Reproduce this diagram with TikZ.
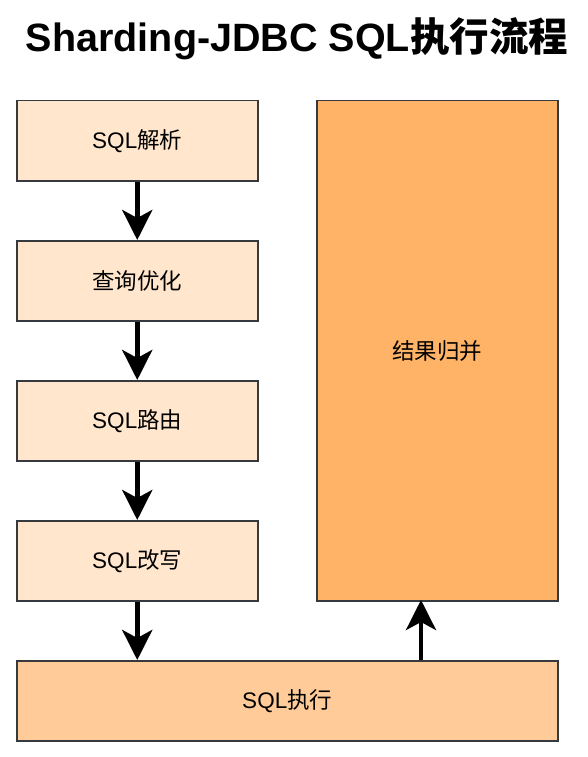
\documentclass[tikz,border=0pt]{standalone}
\usepackage{fontspec}
\setmainfont{Liberation Sans}
\newfontfamily\cjk{Noto Sans CJK SC}
\usetikzlibrary{arrows.meta}
\definecolor{lightfill}{HTML}{FFE6CC}
\definecolor{midfill}{HTML}{FFCC99}
\definecolor{darkfill}{HTML}{FFB366}
\definecolor{edge}{HTML}{36393D}
\tikzset{
  box/.style={draw=edge, line width=1.5pt, anchor=north west, inner sep=0pt, font=\fontsize{22.5}{26}\selectfont},
  flow/.style={line width=4.5pt, -{Stealth[length=30pt,width=30pt,inset=8pt]}, shorten >=0pt}
}
\begin{document}
\begin{tikzpicture}[x=1pt,y=-1pt]
\useasboundingbox (0,0) rectangle (587,757);
\node[font=\bfseries\fontsize{39.5}{44}\selectfont] (title) at (297,39) {Sharding-JDBC SQL{\cjk\bfseries 执行流程}};
\node[box, fill=lightfill, minimum width=241pt, minimum height=80pt] (parse) at (16,100) {SQL{\cjk 解析}};
\node[box, fill=lightfill, minimum width=241pt, minimum height=80pt] (opt) at (16,240) {{\cjk 查询优化}};
\node[box, fill=lightfill, minimum width=241pt, minimum height=80pt] (route) at (16,380) {SQL{\cjk 路由}};
\node[box, fill=lightfill, minimum width=241pt, minimum height=80pt] (rewrite) at (16,520) {SQL{\cjk 改写}};
\node[box, fill=darkfill, minimum width=241pt, minimum height=500pt] (merge) at (316,100) {{\cjk 结果归并}};
\node[box, fill=midfill, minimum width=541pt, minimum height=80pt] (exec) at (16,660) {SQL{\cjk 执行}};
\coordinate (up) at (421,600);
\draw[flow] (parse.south) -- (opt.north);
\draw[flow] (opt.south) -- (route.north);
\draw[flow] (route.south) -- (rewrite.north);
\draw[flow] (rewrite.south) -- (rewrite.south |- exec.north);
\draw[flow] (up |- exec.north) -- (up);
\end{tikzpicture}
\end{document}
